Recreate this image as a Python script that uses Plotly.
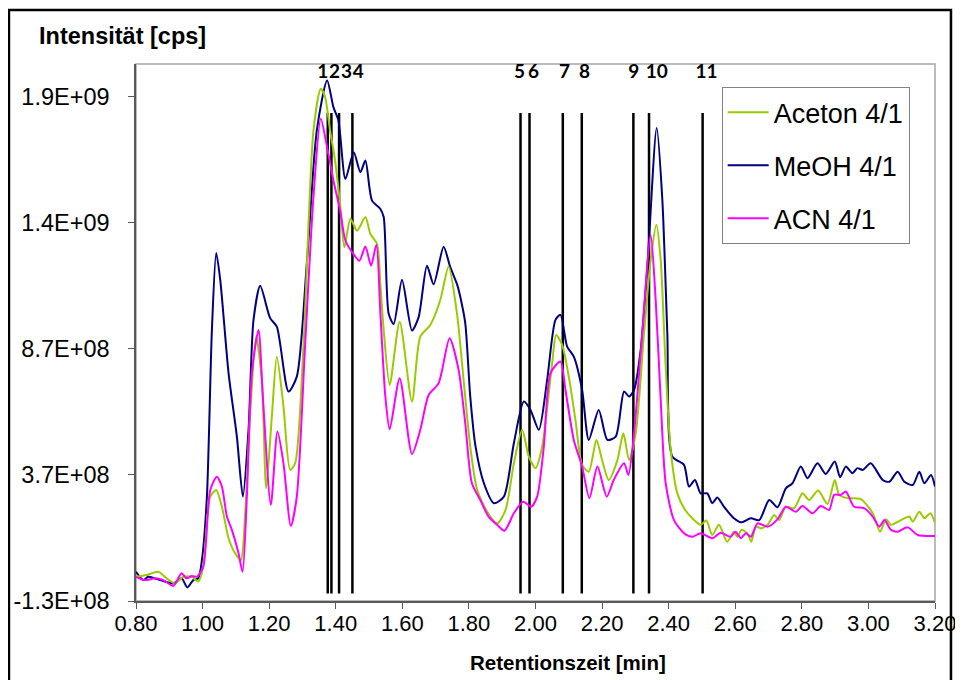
import plotly.graph_objects as go

# ---------------- data (intensity in units of 1e8 cps) ----------------
meoh_x = [0.800, 0.822, 0.837, 0.872, 0.912, 0.937, 0.954, 0.972, 0.987, 0.998,
          1.013, 1.028, 1.041, 1.053, 1.078, 1.103, 1.121, 1.138, 1.153, 1.173,
          1.203, 1.223, 1.258, 1.283, 1.313, 1.343, 1.374, 1.393, 1.408, 1.429,
          1.454, 1.474, 1.489, 1.509, 1.534, 1.544, 1.559, 1.574, 1.599, 1.629,
          1.649, 1.674, 1.694, 1.724, 1.744, 1.764, 1.774, 1.789, 1.804, 1.820,
          1.845, 1.875, 1.905, 1.935, 1.965, 1.985, 2.010, 2.035, 2.060, 2.075,
          2.095, 2.115, 2.140, 2.160, 2.190, 2.216, 2.241, 2.266, 2.281, 2.296,
          2.316, 2.336, 2.364, 2.381, 2.396, 2.411, 2.446, 2.461, 2.479, 2.496,
          2.516, 2.531, 2.546, 2.566, 2.596, 2.617, 2.647, 2.672, 2.702, 2.727,
          2.752, 2.772, 2.797, 2.817, 2.847, 2.872, 2.899, 2.915, 2.932, 2.952,
          2.967, 2.983, 3.007, 3.043, 3.063, 3.088, 3.108, 3.133, 3.153, 3.168,
          3.188, 3.200]
meoh_y = [-0.14, -0.47, -0.34, -0.47, -0.60, -0.40, -0.76, -0.47, -0.40, 0.33,
          2.84, 9.45, 12.50, 11.44, 7.74, 5.22, 2.84, 5.49, 9.85, 11.20,
          9.92, 9.58, 7.01, 7.60, 12.07, 17.36, 19.35, 18.29, 17.76, 15.44,
          16.50, 15.71, 16.17, 14.58, 14.25, 13.93, 10.09, 9.69, 11.44, 9.43,
          9.96, 12.00, 11.26, 12.75, 11.94, 11.28, 10.77, 9.72, 6.81, 4.82,
          3.37, 2.58, 2.84, 4.96, 6.61, 6.28, 5.49, 7.47, 9.85, 10.05,
          8.79, 8.39, 7.07, 5.09, 6.28, 5.09, 5.22, 7.01, 6.81, 7.07,
          8.66, 11.97, 17.46, 14.61, 9.32, 4.43, 4.10, 3.24, 3.50, 2.97,
          2.97, 2.58, 2.81, 2.44, 1.98, 1.82, 1.98, 1.91, 2.71, 2.42,
          3.17, 3.37, 4.03, 3.57, 4.16, 3.74, 4.23, 3.61, 4.03, 3.77,
          3.97, 3.90, 4.16, 3.50, 3.43, 3.83, 3.43, 3.30, 3.83, 3.37,
          3.70, 3.24]

aceton_x = [0.800, 0.832, 0.867, 0.892, 0.917, 0.942, 0.968, 0.987, 1.002, 1.023,
            1.041, 1.058, 1.078, 1.098, 1.115, 1.128, 1.143, 1.161, 1.178, 1.191,
            1.208, 1.223, 1.243, 1.263, 1.278, 1.303, 1.333, 1.355, 1.368, 1.383,
            1.398, 1.413, 1.426, 1.444, 1.464, 1.489, 1.504, 1.524, 1.534, 1.544,
            1.562, 1.592, 1.629, 1.654, 1.684, 1.714, 1.739, 1.764, 1.784, 1.804,
            1.825, 1.855, 1.885, 1.910, 1.935, 1.960, 1.980, 2.000, 2.020, 2.050,
            2.062, 2.080, 2.100, 2.120, 2.140, 2.160, 2.183, 2.200, 2.220, 2.246,
            2.264, 2.281, 2.301, 2.326, 2.346, 2.363, 2.376, 2.391, 2.406, 2.426,
            2.448, 2.471, 2.496, 2.513, 2.531, 2.551, 2.576, 2.596, 2.606, 2.619,
            2.636, 2.648, 2.662, 2.677, 2.697, 2.717, 2.732, 2.752, 2.777, 2.802,
            2.822, 2.849, 2.877, 2.899, 2.912, 2.937, 2.977, 3.013, 3.035, 3.053,
            3.068, 3.098, 3.123, 3.133, 3.153, 3.168, 3.186, 3.200]
aceton_y = [-0.34, -0.27, -0.14, -0.40, -0.60, -0.34, -0.34, -0.53, 0.06, 2.84,
            3.10, 2.44, 1.19, 0.59, 0.33, 2.18, 6.15, 9.19, 7.47, 3.17,
            6.01, 8.39, 6.41, 3.90, 4.16, 8.79, 17.36, 19.02, 18.69, 17.36,
            16.17, 14.45, 12.73, 13.86, 13.39, 13.93, 13.26, 12.87, 11.28, 9.45,
            7.27, 9.78, 6.61, 9.19, 9.65, 10.64, 11.97, 10.12, 7.47, 4.82,
            3.10, 2.24, 1.78, 2.31, 4.16, 5.49, 4.43, 3.97, 4.82, 8.13,
            9.25, 8.86, 7.60, 5.88, 4.10, 3.83, 5.09, 4.29, 3.50, 4.29,
            5.35, 4.29, 5.35, 9.32, 12.23, 13.62, 12.23, 8.00, 4.69, 2.97,
            2.34, 1.98, 1.72, 1.89, 1.32, 1.72, 1.05, 1.45, 1.25, 1.52,
            1.39, 1.05, 1.65, 1.58, 1.72, 2.11, 1.91, 2.44, 2.38, 2.97,
            2.71, 3.08, 2.55, 3.50, 2.91, 2.78, 2.74, 2.18, 1.45, 1.94,
            1.72, 1.91, 2.05, 1.85, 2.24, 1.98, 2.18, 1.81]

acn_x = [0.800, 0.827, 0.857, 0.882, 0.912, 0.937, 0.952, 0.968, 0.983, 1.002,
         1.023, 1.043, 1.058, 1.073, 1.088, 1.108, 1.120, 1.133, 1.148, 1.168,
         1.181, 1.205, 1.225, 1.243, 1.265, 1.283, 1.308, 1.333, 1.355, 1.374,
         1.393, 1.413, 1.429, 1.449, 1.471, 1.489, 1.506, 1.522, 1.534, 1.549,
         1.562, 1.592, 1.629, 1.654, 1.679, 1.709, 1.742, 1.769, 1.789, 1.809,
         1.834, 1.859, 1.885, 1.907, 1.935, 1.963, 1.987, 2.005, 2.025, 2.045,
         2.075, 2.090, 2.115, 2.140, 2.162, 2.186, 2.214, 2.235, 2.266, 2.279,
         2.296, 2.316, 2.346, 2.361, 2.376, 2.391, 2.416, 2.446, 2.471, 2.496,
         2.531, 2.556, 2.586, 2.601, 2.617, 2.632, 2.647, 2.667, 2.697, 2.727,
         2.752, 2.782, 2.802, 2.832, 2.857, 2.882, 2.897, 2.917, 2.932, 2.957,
         2.987, 3.013, 3.033, 3.048, 3.068, 3.088, 3.118, 3.148, 3.200]
acn_y = [-0.34, -0.47, -0.40, -0.47, -0.70, -0.20, -0.40, -0.31, -0.34, 0.06,
         3.10, 3.63, 3.24, 2.05, 1.52, 0.59, -0.14, 2.84, 7.74, 9.45,
         6.81, 2.51, 5.42, 4.16, 1.68, 2.84, 8.86, 14.72, 17.83, 16.70,
         15.38, 14.19, 13.00, 12.54, 12.20, 12.76, 12.00, 12.83, 10.12, 6.81,
         5.51, 7.54, 4.53, 5.49, 6.87, 7.34, 9.12, 7.87, 5.75, 3.37,
         2.71, 2.05, 1.72, 1.49, 2.18, 2.64, 2.44, 2.84, 4.82, 7.74,
         8.20, 7.07, 5.09, 4.03, 2.78, 4.03, 2.84, 3.50, 4.16, 3.70,
         5.35, 8.53, 13.22, 10.64, 6.68, 3.37, 1.91, 1.39, 1.25, 1.39,
         1.19, 1.41, 1.25, 1.45, 1.19, 1.39, 1.25, 1.78, 1.65, 1.94,
         2.44, 2.24, 2.47, 2.18, 2.47, 2.31, 2.91, 2.91, 3.04, 2.44,
         2.38, 2.05, 1.65, 1.91, 1.52, 1.45, 1.62, 1.32, 1.28]

series_names = ["Aceton 4/1", "MeOH 4/1", "ACN 4/1"]
series_colors = ["#99CC00", "#000080", "#FF00FF"]

# peak markers (retention times) and their labels
peak_x = [1.376, 1.387, 1.410, 1.450, 1.955, 1.982, 2.082, 2.139, 2.294, 2.341, 2.502]
peak_labels = ["1", "2", "3", "4", "5", "6", "7", "8", "9", "10", "11"]
peak_label_x = [1.361, 1.396, 1.432, 1.468, 1.952, 1.994, 2.087, 2.147, 2.295, 2.364, 2.514]
peak_line_low, peak_line_high = -1.0, 18.06
peak_label_y = 19.65

x_ticks = [0.8, 1.0, 1.2, 1.4, 1.6, 1.8, 2.0, 2.2, 2.4, 2.6, 2.8, 3.0, 3.2]
x_ticktext = ["0.80", "1.00", "1.20", "1.40", "1.60", "1.80", "2.00", "2.20",
              "2.40", "2.60", "2.80", "3.00", "3.20"]
y_ticks = [-1.3, 3.7, 8.7, 13.7, 18.7]
y_ticktext = ["-1.3E+08", "3.7E+08", "8.7E+08", "1.4E+09", "1.9E+09"]
y_range = [-1.3, 20.0]
x_range = [0.8, 3.2]

FONT = "Liberation Sans, Arial, sans-serif"

fig = go.Figure()

# vertical peak lines
vx, vy = [], []
for p in peak_x:
    vx += [p, p, None]
    vy += [peak_line_low, peak_line_high, None]
fig.add_trace(go.Scatter(x=vx, y=vy, mode="lines", line=dict(color="black", width=2.5),
                         showlegend=False, hoverinfo="skip"))

series = [(aceton_x, aceton_y), (meoh_x, meoh_y), (acn_x, acn_y)]
order = [1, 0, 2]
traces = {}
for i, (xs, ys) in enumerate(series):
    traces[i] = go.Scatter(x=xs, y=ys, mode="lines", name=series_names[i],
                           legendgroup=series_names[i], legendrank=i + 1,
                           line=dict(color=series_colors[i], width=2, shape="spline",
                                     smoothing=0.7))
for i in order:
    fig.add_trace(traces[i])

# peak labels
fig.add_trace(go.Scatter(x=peak_label_x, y=[peak_label_y] * len(peak_label_x),
                         mode="text", text=peak_labels,
                         textfont=dict(family="Lato, " + FONT, size=19, color="black",
                                       weight="bold"),
                         showlegend=False, hoverinfo="skip"))

fig.update_layout(
    width=955, height=672,
    margin=dict(l=128, r=28, t=56, b=79),
    paper_bgcolor="white", plot_bgcolor="white",
    font=dict(family=FONT, color="black"),
    showlegend=True,
    legend=dict(x=0.733, y=0.957, xanchor="left", yanchor="top",
                bgcolor="white", bordercolor="#808080", borderwidth=1,
                font=dict(size=27, family=FONT, color="black"),
                itemwidth=41,
                tracegroupgap=15, traceorder="grouped"),
    xaxis=dict(range=x_range, tickvals=x_ticks, ticktext=x_ticktext,
               showgrid=False, zeroline=False, showline=True, linecolor="#595959",
               linewidth=1.5, ticks="outside", ticklen=6, tickcolor="#595959",
               ticklabelstandoff=-4, automargin=False,
               tickfont=dict(size=22, family=FONT, color="black")),
    yaxis=dict(range=y_range, tickvals=y_ticks, ticktext=y_ticktext,
               showgrid=False, zeroline=False, showline=True, linecolor="#595959",
               linewidth=1.5, ticks="outside", ticklen=6, tickcolor="#595959",
               ticklabelstandoff=14, automargin=False,
               tickfont=dict(size=23.5, family=FONT, color="black")),
    annotations=[
        dict(text="<b>Intensität [cps]</b>", xref="paper", yref="paper",
             x=-0.1239, y=1.052, xanchor="left", yanchor="middle", showarrow=False,
             font=dict(size=23.5, family=FONT, color="black")),
        dict(text="<b>Retentionszeit [min]</b>", xref="paper", yref="paper",
             x=0.5407, y=-0.1136, xanchor="center", yanchor="middle", showarrow=False,
             font=dict(size=20.5, family=FONT, color="black")),
    ],
    shapes=[
        dict(type="rect", xref="paper", yref="paper", x0=0, y0=0, x1=1, y1=1,
             line=dict(color="#A6A6A6", width=1.5), layer="below"),
        dict(type="rect", xref="paper", yref="paper", x0=-0.159, y0=-0.2, x1=1.020, y1=1.1006,
             line=dict(color="black", width=2.5)),
    ],
)

fig.write_html("out.html")
